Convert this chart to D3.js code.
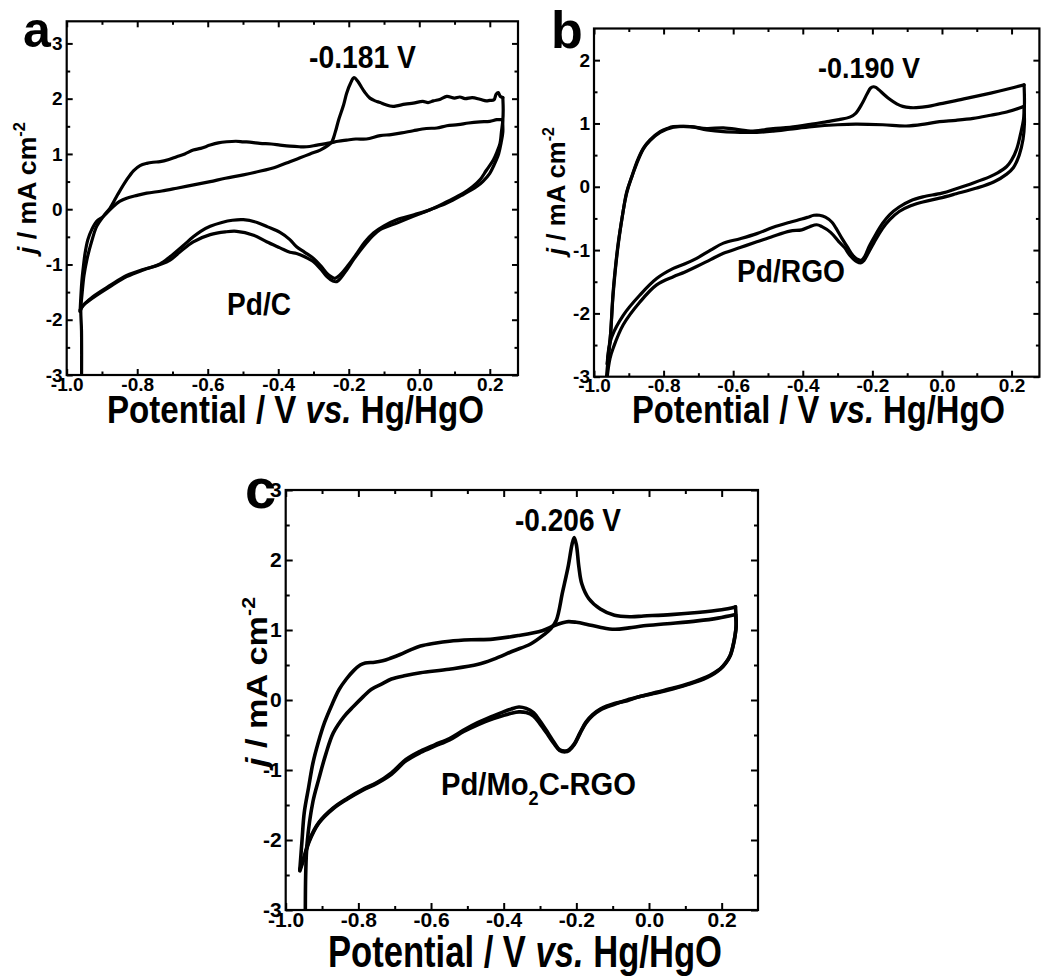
<!DOCTYPE html>
<html><head><meta charset="utf-8">
<script src="https://cdn.jsdelivr.net/npm/d3@7"></script>
<style>
body{margin:0;background:#fff}
svg{display:block}
text{font-family:"Liberation Sans",Arial,Helvetica,sans-serif;font-weight:bold;fill:#000}
</style>
</head><body>
<svg id="chart" width="1049" height="978"></svg>
<script>
// ---------------- DATA (V vs Hg/HgO, j in mA cm^-2) ----------------
const xTickValues = [-1.0, -0.8, -0.6, -0.4, -0.2, 0.0, 0.2];
const xTickLabels = ["-1.0", "-0.8", "-0.6", "-0.4", "-0.2", "0.0", "0.2"];
const xMinorTicks = [-0.9, -0.7, -0.5, -0.3, -0.1, 0.1];
const yTickValuesAC = [-3, -2, -1, 0, 1, 2, 3];
const yTickLabelsAC = ["-3", "-2", "-1", "0", "1", "2", "3"];
const yTickValuesB = [-3, -2, -1, 0, 1, 2];
const yTickLabelsB = ["-3", "-2", "-1", "0", "1", "2"];
const yMinorTicks = [-2.5, -1.5, -0.5, 0.5, 1.5, 2.5];

const xAxisTitle = ["Potential / V ", "vs.", " Hg/HgO"];
const panelLetters = ["a", "b", "c"];
const peakLabels = ["-0.181 V", "-0.190 V", "-0.206 V"];
const sampleLabels = ["Pd/C", "Pd/RGO", "Pd/Mo2C-RGO"];

// Panel a : Pd/C
const aAnodic1 = [[-0.958,-3.3],[-0.958,-2.2],[-0.960,-1.82],[-0.956,-1.5],[-0.951,-1.2],[-0.943,-0.92],[-0.930,-0.60],[-0.915,-0.31],[-0.895,-0.12],[-0.877,0.02],[-0.855,0.27],[-0.830,0.53],[-0.810,0.70],[-0.792,0.79],[-0.773,0.83],[-0.755,0.85],[-0.735,0.86],[-0.710,0.90],[-0.688,0.95],[-0.665,1.00],[-0.641,1.07],[-0.620,1.10],[-0.593,1.16],[-0.570,1.20],[-0.546,1.22],[-0.520,1.23],[-0.499,1.22],[-0.475,1.21],[-0.452,1.19],[-0.420,1.18],[-0.395,1.16],[-0.367,1.14],[-0.340,1.13],[-0.319,1.13],[-0.290,1.16],[-0.253,1.20],[-0.230,1.23],[-0.206,1.25],[-0.180,1.27],[-0.150,1.27],[-0.111,1.33],[-0.080,1.35],[-0.050,1.38],[-0.017,1.42],[0.020,1.46],[0.050,1.47],[0.078,1.51],[0.110,1.53],[0.140,1.56],[0.172,1.58],[0.200,1.59],[0.220,1.62],[0.236,1.62]];
const aCathodic1 = [[0.236,1.62],[0.237,1.40],[0.232,1.20],[0.225,1.00],[0.212,0.80],[0.200,0.65],[0.180,0.50],[0.163,0.41],[0.120,0.25],[0.078,0.11],[0.030,-0.01],[-0.017,-0.13],[-0.060,-0.24],[-0.111,-0.37],[-0.135,-0.50],[-0.159,-0.68],[-0.185,-0.90],[-0.206,-1.10],[-0.222,-1.24],[-0.234,-1.31],[-0.245,-1.30],[-0.262,-1.22],[-0.280,-1.08],[-0.300,-0.95],[-0.325,-0.86],[-0.348,-0.80],[-0.367,-0.78],[-0.395,-0.70],[-0.433,-0.59],[-0.470,-0.47],[-0.518,-0.40],[-0.550,-0.41],[-0.593,-0.46],[-0.641,-0.59],[-0.680,-0.78],[-0.707,-0.92],[-0.735,-1.00],[-0.783,-1.10],[-0.830,-1.22],[-0.877,-1.40],[-0.925,-1.60],[-0.955,-1.75],[-0.962,-1.85]];
const aAnodic2 = [[-0.962,-1.85],[-0.957,-1.30],[-0.952,-1.00],[-0.948,-0.80],[-0.940,-0.55],[-0.929,-0.37],[-0.915,-0.22],[-0.896,-0.13],[-0.868,0.05],[-0.850,0.14],[-0.830,0.20],[-0.800,0.25],[-0.773,0.29],[-0.730,0.33],[-0.688,0.38],[-0.640,0.44],[-0.593,0.50],[-0.550,0.56],[-0.499,0.62],[-0.450,0.69],[-0.404,0.77],[-0.367,0.86],[-0.338,0.93],[-0.310,1.00],[-0.281,1.07],[-0.260,1.15],[-0.248,1.22],[-0.238,1.40],[-0.229,1.61],[-0.215,1.88],[-0.206,2.10],[-0.195,2.28],[-0.185,2.38],[-0.175,2.32],[-0.168,2.25],[-0.155,2.12],[-0.140,2.01],[-0.125,1.96],[-0.111,1.93],[-0.095,1.89],[-0.075,1.86],[-0.064,1.87],[-0.040,1.90],[-0.017,1.92],[0.010,1.95],[0.025,1.93],[0.040,1.96],[0.060,1.99],[0.078,2.04],[0.100,2.01],[0.115,2.03],[0.130,2.00],[0.150,2.02],[0.172,1.99],[0.190,1.96],[0.200,1.97],[0.212,1.98],[0.218,2.08],[0.224,2.11],[0.230,2.04],[0.237,2.02]];
const aCathodic2 = [[0.237,2.02],[0.238,1.80],[0.237,1.61],[0.233,1.40],[0.229,1.19],[0.220,1.03],[0.210,0.89],[0.190,0.70],[0.172,0.53],[0.150,0.40],[0.125,0.29],[0.080,0.14],[0.031,-0.01],[-0.015,-0.10],[-0.064,-0.19],[-0.100,-0.30],[-0.130,-0.43],[-0.155,-0.60],[-0.177,-0.80],[-0.200,-1.00],[-0.225,-1.19],[-0.239,-1.25],[-0.250,-1.22],[-0.262,-1.16],[-0.280,-1.02],[-0.300,-0.89],[-0.325,-0.78],[-0.348,-0.68],[-0.367,-0.55],[-0.395,-0.42],[-0.430,-0.32],[-0.460,-0.24],[-0.499,-0.19],[-0.530,-0.20],[-0.560,-0.24],[-0.593,-0.31],[-0.620,-0.40],[-0.641,-0.50],[-0.670,-0.66],[-0.707,-0.86],[-0.735,-0.99],[-0.760,-1.05],[-0.783,-1.09],[-0.830,-1.20],[-0.877,-1.38],[-0.925,-1.58],[-0.950,-1.72],[-0.962,-1.82]];

// Panel b : Pd/RGO
const bAnodic1 = [[-0.966,-3.2],[-0.964,-3.0],[-0.959,-2.70],[-0.954,-2.45],[-0.945,-1.66],[-0.938,-1.25],[-0.930,-0.87],[-0.918,-0.45],[-0.906,-0.08],[-0.890,0.18],[-0.877,0.39],[-0.858,0.61],[-0.839,0.74],[-0.810,0.87],[-0.790,0.92],[-0.772,0.95],[-0.724,0.95],[-0.676,0.92],[-0.628,0.93],[-0.580,0.90],[-0.550,0.88],[-0.510,0.90],[-0.485,0.92],[-0.437,0.94],[-0.374,0.99],[-0.330,1.03],[-0.296,1.06],[-0.265,1.10],[-0.248,1.16],[-0.229,1.32],[-0.215,1.47],[-0.205,1.56],[-0.197,1.58],[-0.190,1.57],[-0.181,1.53],[-0.165,1.45],[-0.152,1.39],[-0.130,1.31],[-0.113,1.27],[-0.090,1.25],[-0.074,1.25],[-0.040,1.27],[-0.007,1.31],[0.040,1.36],[0.090,1.42],[0.140,1.48],[0.186,1.54],[0.236,1.61]];
const bCathodic1 = [[0.236,1.61],[0.237,1.30],[0.234,1.05],[0.226,0.84],[0.215,0.60],[0.200,0.42],[0.186,0.32],[0.160,0.22],[0.138,0.16],[0.090,0.06],[0.041,-0.03],[0.000,-0.10],[-0.055,-0.16],[-0.090,-0.22],[-0.123,-0.32],[-0.150,-0.44],[-0.171,-0.58],[-0.190,-0.75],[-0.210,-0.95],[-0.222,-1.10],[-0.232,-1.16],[-0.245,-1.14],[-0.258,-1.07],[-0.272,-0.95],[-0.287,-0.82],[-0.305,-0.65],[-0.316,-0.56],[-0.335,-0.48],[-0.352,-0.45],[-0.368,-0.45],[-0.385,-0.48],[-0.403,-0.51],[-0.437,-0.56],[-0.485,-0.64],[-0.532,-0.74],[-0.580,-0.82],[-0.628,-0.89],[-0.665,-1.00],[-0.705,-1.13],[-0.740,-1.22],[-0.772,-1.29],[-0.820,-1.45],[-0.868,-1.71],[-0.916,-2.03],[-0.949,-2.37],[-0.959,-2.61],[-0.962,-2.80]];
const bAnodic2 = [[-0.962,-2.80],[-0.958,-2.60],[-0.952,-2.30],[-0.945,-1.70],[-0.930,-0.90],[-0.906,-0.10],[-0.877,0.37],[-0.858,0.60],[-0.839,0.73],[-0.810,0.86],[-0.772,0.94],[-0.724,0.95],[-0.676,0.90],[-0.628,0.87],[-0.580,0.86],[-0.532,0.86],[-0.485,0.88],[-0.437,0.91],[-0.374,0.95],[-0.300,0.98],[-0.248,0.99],[-0.170,0.98],[-0.103,0.96],[-0.050,0.99],[-0.007,1.03],[0.040,1.05],[0.090,1.08],[0.140,1.13],[0.186,1.18],[0.236,1.27]];
const bCathodic2 = [[0.236,1.27],[0.237,1.00],[0.233,0.75],[0.222,0.50],[0.205,0.30],[0.186,0.20],[0.150,0.08],[0.100,-0.02],[0.041,-0.11],[-0.007,-0.18],[-0.055,-0.24],[-0.090,-0.30],[-0.123,-0.39],[-0.150,-0.52],[-0.171,-0.66],[-0.195,-0.88],[-0.212,-1.05],[-0.225,-1.17],[-0.232,-1.20],[-0.245,-1.18],[-0.265,-1.08],[-0.280,-0.96],[-0.296,-0.87],[-0.320,-0.72],[-0.345,-0.63],[-0.360,-0.60],[-0.380,-0.63],[-0.403,-0.68],[-0.437,-0.70],[-0.485,-0.78],[-0.532,-0.87],[-0.580,-0.96],[-0.628,-1.05],[-0.665,-1.15],[-0.705,-1.26],[-0.740,-1.35],[-0.772,-1.42],[-0.820,-1.55],[-0.868,-1.82],[-0.916,-2.18],[-0.945,-2.55],[-0.954,-2.71],[-0.962,-3.00],[-0.965,-3.20]];

// Panel c : Pd/Mo2C-RGO
const cAnodic1 = [[-0.961,-2.42],[-0.955,-2.00],[-0.949,-1.61],[-0.937,-1.25],[-0.925,-0.90],[-0.910,-0.60],[-0.893,-0.32],[-0.873,-0.07],[-0.853,0.15],[-0.833,0.30],[-0.813,0.42],[-0.795,0.50],[-0.781,0.53],[-0.755,0.54],[-0.733,0.56],[-0.710,0.60],[-0.685,0.65],[-0.655,0.72],[-0.629,0.77],[-0.590,0.81],[-0.549,0.84],[-0.490,0.86],[-0.430,0.87],[-0.360,0.92],[-0.294,0.99],[-0.262,1.06],[-0.240,1.10],[-0.222,1.12],[-0.200,1.11],[-0.170,1.08],[-0.135,1.04],[-0.095,1.01],[-0.055,1.03],[-0.015,1.06],[0.050,1.09],[0.133,1.13],[0.190,1.17],[0.238,1.22]];
const cCathodic1 = [[0.238,1.22],[0.240,1.05],[0.236,0.90],[0.230,0.75],[0.223,0.63],[0.210,0.52],[0.196,0.44],[0.180,0.38],[0.159,0.32],[0.113,0.23],[0.067,0.16],[0.020,0.10],[-0.025,0.05],[-0.060,-0.01],[-0.095,-0.05],[-0.134,-0.13],[-0.155,-0.21],[-0.174,-0.32],[-0.190,-0.47],[-0.206,-0.63],[-0.220,-0.71],[-0.230,-0.73],[-0.246,-0.71],[-0.262,-0.60],[-0.278,-0.47],[-0.300,-0.30],[-0.318,-0.18],[-0.338,-0.12],[-0.358,-0.10],[-0.380,-0.13],[-0.406,-0.18],[-0.430,-0.23],[-0.470,-0.32],[-0.510,-0.43],[-0.549,-0.55],[-0.590,-0.64],[-0.629,-0.73],[-0.669,-0.85],[-0.709,-1.04],[-0.749,-1.18],[-0.789,-1.28],[-0.829,-1.40],[-0.869,-1.54],[-0.909,-1.75],[-0.935,-2.00],[-0.950,-2.25],[-0.961,-2.42]];
const cAnodic2 = [[-0.946,-3.30],[-0.945,-2.50],[-0.941,-2.04],[-0.925,-1.45],[-0.909,-1.13],[-0.890,-0.78],[-0.869,-0.47],[-0.840,-0.24],[-0.813,-0.09],[-0.790,0.03],[-0.765,0.15],[-0.735,0.23],[-0.709,0.30],[-0.670,0.35],[-0.629,0.39],[-0.550,0.44],[-0.470,0.51],[-0.429,0.58],[-0.374,0.70],[-0.326,0.80],[-0.290,0.93],[-0.270,1.02],[-0.255,1.14],[-0.238,1.54],[-0.222,1.92],[-0.212,2.22],[-0.206,2.32],[-0.200,2.22],[-0.193,1.90],[-0.185,1.66],[-0.166,1.45],[-0.134,1.30],[-0.095,1.21],[-0.050,1.19],[-0.015,1.20],[0.060,1.22],[0.133,1.25],[0.200,1.29],[0.238,1.33]];
const cCathodic2 = [[0.238,1.33],[0.240,1.10],[0.237,0.92],[0.231,0.76],[0.224,0.64],[0.211,0.53],[0.197,0.45],[0.180,0.39],[0.159,0.33],[0.113,0.24],[0.067,0.17],[0.020,0.11],[-0.025,0.05],[-0.060,0.00],[-0.095,-0.06],[-0.134,-0.14],[-0.155,-0.22],[-0.174,-0.33],[-0.190,-0.48],[-0.206,-0.64],[-0.220,-0.72],[-0.230,-0.74],[-0.246,-0.72],[-0.262,-0.62],[-0.278,-0.50],[-0.300,-0.34],[-0.318,-0.23],[-0.338,-0.18],[-0.358,-0.17],[-0.380,-0.19],[-0.406,-0.23],[-0.430,-0.27],[-0.470,-0.35],[-0.510,-0.45],[-0.549,-0.57],[-0.590,-0.66],[-0.629,-0.75],[-0.669,-0.87],[-0.709,-1.06],[-0.749,-1.19],[-0.789,-1.29],[-0.829,-1.41],[-0.869,-1.55],[-0.909,-1.76],[-0.935,-2.02],[-0.950,-2.27],[-0.961,-2.44]];

// ---------------- LAYOUT ----------------
const svg = d3.select("#chart");
const FONT = '"Liberation Sans", Arial, Helvetica, sans-serif';

const panels = [
  { box:{l:66.7, r:518, t:21.3, b:375}, xDom:[-1.0,0.28], yDom:[-3,3.4],
    yTicks:yTickValuesAC, yLabels:yTickLabelsAC, curves:[aAnodic1,aCathodic1,aAnodic2,aCathodic2],
    lw:3.2, tickFont:19, tickPad:2, yPad:4, major:6, minor:3.5,
    letter:{x:23, y:47, size:50}, peak:{x:309, y:68, w:107, size:31}, sample:{x:227, y:315, w:64, size:31},
    title:{x:107, y:423, w:377, size:39}, ytitle:{x:36, y:188, w:132, size:26} },
  { box:{l:594, r:1039.4, t:28.5, b:376.7}, xDom:[-1.0,0.28], yDom:[-3,2.5],
    yTicks:yTickValuesB, yLabels:yTickLabelsB, curves:[bAnodic1,bCathodic1,bAnodic2,bCathodic2],
    lw:3.2, tickFont:19, tickPad:2, yPad:4, major:6, minor:3.5,
    letter:{x:551, y:48, size:52}, peak:{x:818, y:78, w:102, size:30}, sample:{x:737, y:282, w:108, size:31},
    title:{x:632, y:423, w:373, size:39}, ytitle:{x:565, y:191, w:128, size:26} },
  { box:{l:285.7, r:758, t:490, b:910}, xDom:[-1.0,0.30], yDom:[-3,3],
    yTicks:yTickValuesAC, yLabels:yTickLabelsAC, curves:[cAnodic1,cCathodic1,cAnodic2,cCathodic2],
    lw:3.6, tickFont:21, tickPad:2, yPad:4, major:7, minor:4,
    letter:{x:245, y:508, size:56}, peak:{x:515, y:531, w:106, size:31}, sample:{x:441, y:795, w:195, size:32},
    title:{x:328, y:967, w:394, size:45}, ytitle:{x:267, y:682, w:170, size:29} }
];

// place a text (built by fn) so that its width equals w
function fitted(parent, x, y, w, size, build, anchor, rot) {
  const g = parent.append("g");
  const t = g.append("text").attr("font-size", size).attr("text-anchor", anchor || "start")
    .style("font-family", FONT).style("font-weight", "bold");
  build(t, size);
  const bw = t.node().getComputedTextLength() || t.node().getBBox().width;
  const s = w / bw;
  g.attr("transform", `translate(${x},${y})` + (rot ? ` rotate(${rot})` : "") + ` scale(${s},1)`);
  return g;
}

panels.forEach((p, i) => {
  const B = p.box;
  const x = d3.scaleLinear().domain(p.xDom).range([B.l, B.r]);
  const y = d3.scaleLinear().domain(p.yDom).range([B.b, B.t]);
  const g = svg.append("g");

  const clipId = "clip" + i;
  g.append("clipPath").attr("id", clipId).append("rect")
    .attr("x", B.l).attr("y", B.t).attr("width", B.r - B.l).attr("height", B.b - B.t);

  const line = d3.line().x(d => x(d[0])).y(d => y(d[1])).curve(d3.curveCatmullRom.alpha(0.5));
  g.append("g").attr("clip-path", `url(#${clipId})`)
    .selectAll("path").data(p.curves).join("path")
    .attr("d", line).attr("fill", "none").attr("stroke", "#000")
    .attr("stroke-width", p.lw).attr("stroke-linejoin", "round").attr("stroke-linecap", "round");

  const styleAxis = sel => {
    sel.attr("font-family", FONT).attr("font-size", p.tickFont).attr("font-weight", "bold");
    sel.selectAll(".tick line").attr("stroke", "#000").attr("stroke-width", 2);
    sel.selectAll("text").attr("fill", "#000");
  };
  const noDomain = sel => sel.select(".domain").remove();
  const minorY = yMinorTicks.filter(v => v > p.yDom[0] && v < p.yDom[1]);

  // bottom
  g.append("g").attr("transform", `translate(0,${B.b})`)
    .call(d3.axisBottom(x).tickValues(xTickValues).tickSize(-p.major).tickSizeOuter(0)
      .tickPadding(p.tickPad).tickFormat((d, k) => xTickLabels[k]))
    .call(noDomain).call(styleAxis);
  g.append("g").attr("transform", `translate(0,${B.b})`)
    .call(d3.axisBottom(x).tickValues(xMinorTicks).tickSize(-p.minor).tickFormat(""))
    .call(noDomain).call(styleAxis);
  // top
  g.append("g").attr("transform", `translate(0,${B.t})`)
    .call(d3.axisTop(x).tickValues(xTickValues).tickSize(-p.major).tickFormat(""))
    .call(noDomain).call(styleAxis);
  g.append("g").attr("transform", `translate(0,${B.t})`)
    .call(d3.axisTop(x).tickValues(xMinorTicks).tickSize(-p.minor).tickFormat(""))
    .call(noDomain).call(styleAxis);
  // left
  g.append("g").attr("transform", `translate(${B.l},0)`)
    .call(d3.axisLeft(y).tickValues(p.yTicks).tickSize(-p.major).tickPadding(p.yPad)
      .tickFormat((d, k) => p.yLabels[k]))
    .call(noDomain).call(styleAxis);
  g.append("g").attr("transform", `translate(${B.l},0)`)
    .call(d3.axisLeft(y).tickValues(minorY).tickSize(-p.minor).tickFormat(""))
    .call(noDomain).call(styleAxis);
  // right
  g.append("g").attr("transform", `translate(${B.r},0)`)
    .call(d3.axisRight(y).tickValues(p.yTicks).tickSize(-p.major).tickFormat(""))
    .call(noDomain).call(styleAxis);
  g.append("g").attr("transform", `translate(${B.r},0)`)
    .call(d3.axisRight(y).tickValues(minorY).tickSize(-p.minor).tickFormat(""))
    .call(noDomain).call(styleAxis);

  // frame
  g.append("rect").attr("x", B.l).attr("y", B.t).attr("width", B.r - B.l).attr("height", B.b - B.t)
    .attr("fill", "none").attr("stroke", "#000").attr("stroke-width", 2.2);

  // panel letter
  g.append("text").attr("x", p.letter.x).attr("y", p.letter.y).attr("font-size", p.letter.size)
    .style("font-family", FONT).style("font-weight", "bold").text(panelLetters[i]);

  // peak label
  fitted(g, p.peak.x, p.peak.y, p.peak.w, p.peak.size, t => t.text(peakLabels[i]));

  // sample label
  fitted(g, p.sample.x, p.sample.y, p.sample.w, p.sample.size, (t, s) => {
    const m = sampleLabels[i].match(/^(.*Mo)(2)(C.*)$/);
    if (m) {
      t.append("tspan").text(m[1]);
      t.append("tspan").attr("dy", s * 0.3).attr("font-size", s * 0.62).text(m[2]);
      t.append("tspan").attr("dy", -s * 0.3).text(m[3]);
    } else t.text(sampleLabels[i]);
  });

  // x title
  fitted(g, p.title.x, p.title.y, p.title.w, p.title.size, t => {
    t.append("tspan").text(xAxisTitle[0]);
    t.append("tspan").style("font-style", "italic").text(xAxisTitle[1]);
    t.append("tspan").text(xAxisTitle[2]);
  });

  // y title
  fitted(g, p.ytitle.x, p.ytitle.y, p.ytitle.w, p.ytitle.size, (t, s) => {
    t.append("tspan").style("font-style", "italic").text("j");
    t.append("tspan").text(" / mA cm");
    t.append("tspan").attr("dy", -s * 0.42).attr("font-size", s * 0.62).text("-2");
  }, "middle", -90);
});
</script>
</body></html>
